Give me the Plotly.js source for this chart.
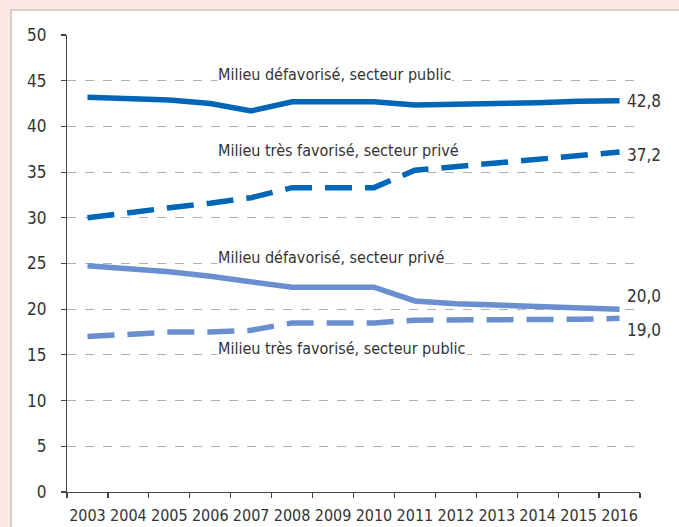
<!DOCTYPE html>
<html>
<head>
<meta charset="utf-8">
<script src="https://cdn.plot.ly/plotly-3.0.1.min.js"></script>
<style>html,body{margin:0;padding:0;background:#fce9e3;}#chart{width:679px;height:527px;}</style>
</head>
<body>
<div id="chart"></div>
<script>
const years = ["2003","2004","2005","2006","2007","2008","2009","2010","2011","2012","2013","2014","2015","2016"];
const defavPublic   = [43.2,43.1,42.9,42.5,41.7,42.7,42.7,42.7,42.35,42.4,42.5,42.6,42.75,42.8];
const tresFavPrive  = [30.0,30.6,31.1,31.6,32.2,33.3,33.3,33.3,35.2,35.6,35.9,36.3,36.8,37.2];
const defavPrive    = [24.75,24.4,24.1,23.6,23.0,22.4,22.4,22.4,20.9,20.6,20.45,20.25,20.1,20.0];
const tresFavPublic = [17.0,17.3,17.5,17.5,17.7,18.5,18.5,18.5,18.8,18.8,18.8,18.8,18.9,19.0];
const seriesNames = ["Milieu défavorisé, secteur public","Milieu très favorisé, secteur privé","Milieu défavorisé, secteur privé","Milieu très favorisé, secteur public"];
const endLabels = ["42,8","37,2","20,0","19,0"];
const yTicks = [0,5,10,15,20,25,30,35,40,45,50];

const font = "Liberation Sans Narrow, DejaVu Sans Condensed, Arial Narrow, sans-serif";
const dark = "#0066b8", light = "#6a8fcf";
const allSeries = [defavPublic, tresFavPrive, defavPrive, tresFavPublic];
const styles = [
  {color: dark, width: 5.5, dash: "solid"},
  {color: dark, width: 5.5, dash: "27px,13px"},
  {color: light, width: 5.5, dash: "solid"},
  {color: light, width: 5.5, dash: "27px,13px"}
];
const traces = allSeries.map((s, i) => ({
  x: years, y: s, type: "scatter", mode: "lines", name: seriesNames[i],
  line: Object.assign({shape: "linear"}, styles[i]), hoverinfo: "skip"
}));

const labelPos = [
  {x: 3.17, y: 45.7},
  {x: 3.17, y: 37.4},
  {x: 3.17, y: 25.7},
  {x: 3.17, y: 15.7}
];
const annotations = [];
seriesNames.forEach((n, i) => {
  annotations.push({
    text: n, xref: "x", yref: "y", x: labelPos[i].x, y: labelPos[i].y,
    xanchor: "left", yanchor: "middle", showarrow: false,
    bgcolor: "white", borderpad: 0,
    font: {family: font, size: 16, color: "#333"}
  });
});
const endShift = [0, -3, 13, -12];
allSeries.forEach((s, i) => {
  annotations.push({
    text: endLabels[i], xref: "x", yref: "y", x: years.length - 1, y: s[s.length - 1],
    xanchor: "left", yanchor: "middle", xshift: 5, yshift: endShift[i], showarrow: false,
    font: {family: font, size: 17, color: "#333"}
  });
});

const layout = {
  width: 679, height: 527,
  margin: {l: 67, r: 39, t: 35, b: 35, pad: 0},
  paper_bgcolor: "#fce9e3", plot_bgcolor: "white",
  showlegend: false,
  font: {family: font, size: 17, color: "#333"},
  xaxis: {
    type: "category", tickson: "boundaries", range: [-0.5, 13.5],
    showline: true, linecolor: "#444", linewidth: 1.2,
    ticks: "outside", ticklen: 5, tickcolor: "#444", tickwidth: 1.2,
    showgrid: false, zeroline: false, fixedrange: true, tickangle: 0,
    tickfont: {family: font, size: 16, color: "#333"}, ticklabelstandoff: 9
  },
  yaxis: {
    range: [0, 50], tickvals: yTicks, ticktext: yTicks.map(String),
    showline: true, linecolor: "#444", linewidth: 1.2,
    ticks: "outside", ticklen: 5, tickcolor: "#444", tickwidth: 1.2,
    showgrid: true, gridcolor: "#b0b0b0", gridwidth: 1, griddash: "dash",
    zeroline: false, fixedrange: true,
    tickfont: {family: font, size: 17, color: "#333"}, ticklabelstandoff: 11
  },
  shapes: [{
    type: "rect", xref: "paper", yref: "paper", layer: "below",
    x0: -0.0977, x1: 1.2, y0: -0.2, y1: 1.0547,
    fillcolor: "white", line: {color: "#c9c2bf", width: 1.5}
  }],
  annotations: annotations
};
Plotly.newPlot("chart", traces, layout, {displayModeBar: false, staticPlot: true});
</script>
</body>
</html>
